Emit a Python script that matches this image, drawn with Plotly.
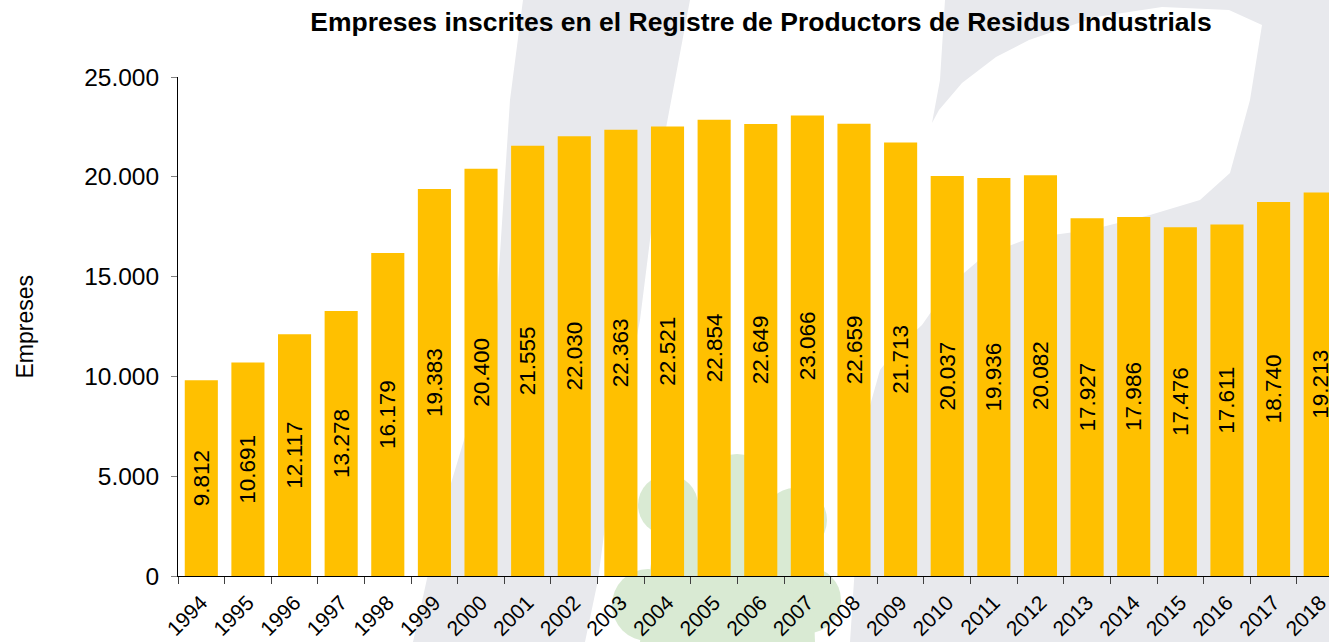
import plotly.graph_objects as go

# ---- data ----
years = ["1994", "1995", "1996", "1997", "1998", "1999", "2000", "2001", "2002",
         "2003", "2004", "2005", "2006", "2007", "2008", "2009", "2010", "2011",
         "2012", "2013", "2014", "2015", "2016", "2017", "2018"]
empreses = [9812, 10691, 12117, 13278, 16179, 19383, 20400, 21555, 22030,
            22363, 22521, 22854, 22649, 23066, 22659, 21713, 20037, 19936,
            20082, 17927, 17986, 17476, 17611, 18740, 19213]
labels = [f"{v:,}".replace(",", ".") for v in empreses]

title_text = "Empreses inscrites en el Registre de Productors de Residus Industrials"
y_title = "Empreses"

# ---- layout geometry (pixels) ----
W, H = 1329, 642
L, T, B = 178, 77, 66
PW = W - L
PH = H - T - B
FONT = "Liberation Sans, Arial, sans-serif"
GRAY = "#E8E9ED"
GREEN = "#D9EAD3"


def px(X, Y):
    return (X - L) / PW, (H - B - Y) / PH


def poly(points, color):
    pts = [px(x, y) for x, y in points]
    d = "M " + " L ".join(f"{a:.5f},{b:.5f}" for a, b in pts) + " Z"
    return dict(type="path", xref="paper", yref="paper", path=d,
                fillcolor=color, line=dict(width=0), layer="below")


def circle(cx, cy, r, color):
    x0, y0 = px(cx - r, cy + r)
    x1, y1 = px(cx + r, cy - r)
    return dict(type="circle", xref="paper", yref="paper", x0=x0, y0=y0,
                x1=x1, y1=y1, fillcolor=color, line=dict(width=0), layer="below")


shapes = []
# diagonal gray band
shapes.append(poly([(523, 0), (690, 0), (660, 160), (640, 320), (615, 450),
                    (598, 580), (585, 642), (413, 642), (440, 520), (470, 420),
                    (497, 300), (510, 100)], GRAY))
# right gray region with white leaf cut
shapes.append(poly([(945, 0), (1329, 0), (1329, 642), (850, 642), (858, 520),
                    (866, 420), (880, 370), (900, 345), (922, 325), (950, 285),
                    (985, 255), (1030, 238), (1090, 230), (1150, 215), (1200, 200),
                    (1230, 173), (1250, 100), (1262, 25), (1229, 10), (1162, 7),
                    (1096, 17), (1029, 40), (996, 57), (962, 83), (939, 110),
                    (932, 123), (940, 80)], GRAY))
# green clover
for cx, cy, r in [(668, 505, 30), (737, 490, 36), (795, 520, 32),
                  (808, 600, 33), (648, 605, 36)]:
    shapes.append(circle(cx, cy, r, GREEN))
shapes.append(poly([(660, 500), (810, 500), (815, 642), (640, 642)], GREEN))

fig = go.Figure(go.Bar(
    x=years, y=empreses, text=labels,
    textposition="inside", insidetextanchor="middle", textangle=-90,
    textfont=dict(family=FONT, size=22.5, color="black"),
    marker=dict(color="#FFC000", line=dict(width=0)),
    hoverinfo="x+y",
))

fig.update_layout(
    width=W, height=H,
    margin=dict(l=L, r=0, t=T, b=B, pad=0, autoexpand=False),
    paper_bgcolor="white", plot_bgcolor="rgba(0,0,0,0)",
    separators=",.",
    bargap=0.29,
    showlegend=False,
    font=dict(family=FONT, color="black"),
    shapes=shapes,
    title=dict(text="<b>" + title_text + "</b>", xref="paper", x=(761 - L) / PW,
               xanchor="center", yref="container", y=(H - 22) / H,
               yanchor="middle", font=dict(family=FONT, size=26.5, color="black")),
    xaxis=dict(type="category", range=[-0.5, (W - 179) / 46.58 - 0.5],
               automargin=False,
               showline=True, linecolor="black", linewidth=1,
               ticks="outside", tickson="boundaries", ticklen=7,
               tickcolor="#404040", tickangle=-45,
               ticklabelstandoff=5,
               tickfont=dict(family=FONT, size=21, color="black"),
               showgrid=False, zeroline=False),
    yaxis=dict(range=[0, 25000], dtick=5000, tickformat=",d",
               automargin=False,
               showline=True, linecolor="black", linewidth=1,
               ticks="outside", ticklen=6, tickcolor="#808080",
               ticklabelstandoff=7,
               tickfont=dict(family=FONT, size=24.5, color="black"),
               showgrid=False, zeroline=False),
    annotations=[dict(text=y_title, xref="paper", yref="paper",
                      x=(24 - L) / PW, y=0.5, textangle=-90, showarrow=False,
                      xanchor="center", yanchor="middle",
                      font=dict(family=FONT, size=23, color="black"))],
)

fig.write_html("out.html", config={"displayModeBar": False},
               post_script="document.body.style.margin='0';document.body.style.overflow='hidden';")
